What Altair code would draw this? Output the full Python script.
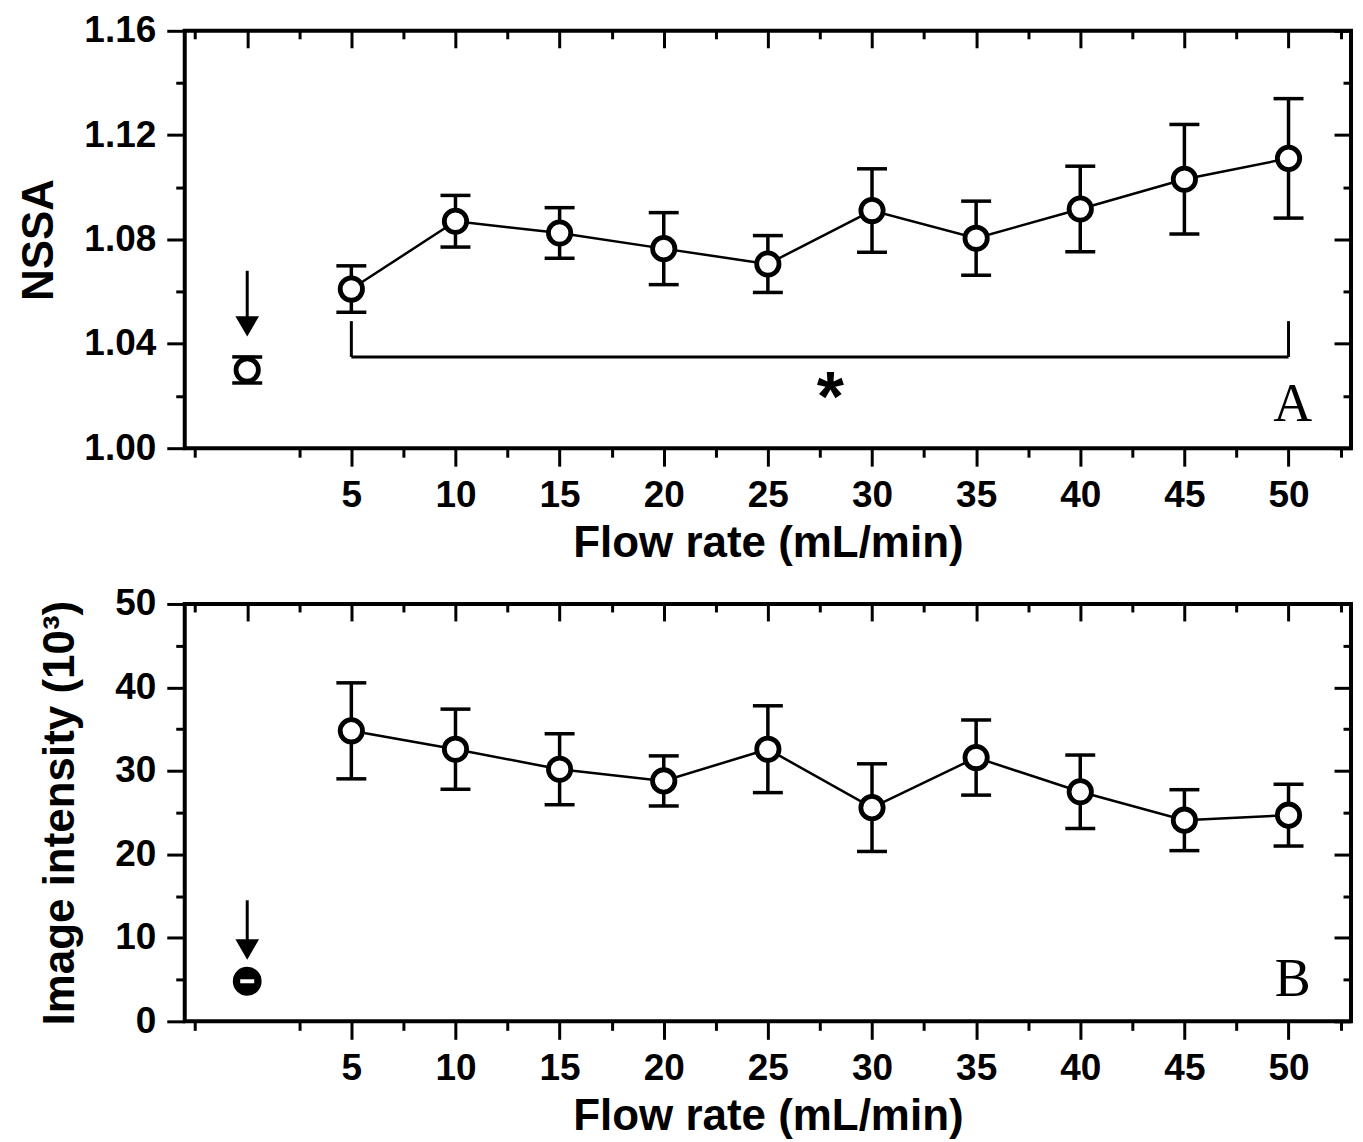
import altair as alt
import pandas as pd

# ---------------- data ----------------
flow = [5, 10, 15, 20, 25, 30, 35, 40, 45, 50]

nssa = [1.061, 1.087, 1.0825, 1.0765, 1.0706, 1.0911, 1.0805, 1.0917, 1.1031, 1.1111]
nssa_err = [0.0089, 0.0099, 0.0097, 0.0138, 0.0109, 0.0160, 0.0142, 0.0164, 0.0210, 0.0229]

ctrl_flow = [0]
nssa_ctrl = [1.030]
nssa_ctrl_err = [0.005]

intensity = [34.8, 32.6, 30.2, 28.8, 32.6, 25.6, 31.6, 27.5, 24.1, 24.7]
intensity_err = [5.75, 4.8, 4.25, 3.0, 5.2, 5.25, 4.5, 4.4, 3.65, 3.7]
int_ctrl = [4.8]

# arrows pointing at the control points (shaft top, arrow-head centre)
nssa_arrow_top = [1.068]
nssa_arrow_head = [1.0467]
int_arrow_top = [14.5]
int_arrow_head = [8.6]

# significance bracket
bracket_x = [5, 50]
bracket_y = [1.035]
bracket_top = [1.0487]
star_x = [28]
star_y = [1.0242]

# panel letters
letter_x = [50.2]
letter_a_y = [1.0167]
letter_b_y = [5.0]

# axes
X_DOMAIN = [-3, 53]
x_major_bottom = [5, 10, 15, 20, 25, 30, 35, 40, 45, 50]
x_major_top = [0, 5, 10, 15, 20, 25, 30, 35, 40, 45, 50]
x_minor = [-2.5, 2.5, 7.5, 12.5, 17.5, 22.5, 27.5, 32.5, 37.5, 42.5, 47.5, 52.5]

nssa_domain = [1.00, 1.16]
nssa_major = [1.00, 1.04, 1.08, 1.12, 1.16]
nssa_minor = [1.02, 1.06, 1.10, 1.14]

int_domain = [0, 50]
int_major = [0, 10, 20, 30, 40, 50]
int_minor = [5, 15, 25, 35, 45]

W = 1168
H = 418
XTITLE = "Flow rate (mL/min)"

xs = alt.Scale(domain=X_DOMAIN, nice=False, zero=False)


def X(field, axis, title=None):
    return alt.X(f"{field}:Q", scale=xs, axis=axis, title=title)


def panel(vals, errs, ctrl_vals, ctrl_errs, ydom, ymaj, ymin, yfmt, ytitle,
          ytitle_pad, arrow_top, arrow_head, ctrl_filled, extra):
    ys = alt.Scale(domain=ydom, nice=False, zero=False)

    def Y(field, axis, title=None):
        return alt.Y(f"{field}:Q", scale=ys, axis=axis, title=title)

    df = pd.DataFrame({"flow": flow, "v": vals,
                       "lo": [v - e for v, e in zip(vals, errs)],
                       "hi": [v + e for v, e in zip(vals, errs)]})
    cdf = pd.DataFrame({"flow": ctrl_flow, "v": ctrl_vals,
                        "lo": [v - e for v, e in zip(ctrl_vals, ctrl_errs)],
                        "hi": [v + e for v, e in zip(ctrl_vals, ctrl_errs)]})
    err_df = df if ctrl_filled else pd.concat([cdf, df], ignore_index=True)

    ax_x_main = alt.Axis(orient="bottom", values=x_major_bottom, tickSize=18,
                         format="d", labelFlush=False, labelOverlap=False,
                         titlePadding=8)
    ax_x_minor = alt.Axis(orient="bottom", values=x_minor, tickSize=9, labels=False)
    ax_x_top = alt.Axis(orient="bottom", offset=-H, values=x_major_top,
                        tickSize=17, labels=False)
    ax_x_top_minor = alt.Axis(orient="bottom", offset=-H, values=x_minor,
                              tickSize=8, labels=False)

    ax_y_main = alt.Axis(orient="left", values=ymaj, tickSize=18, format=yfmt,
                         labelOverlap=False, labelFlush=False, titlePadding=ytitle_pad)
    ax_y_minor = alt.Axis(orient="left", values=ymin, tickSize=9, labels=False)
    ax_y_right = alt.Axis(orient="left", offset=-W, values=ymaj, tickSize=17,
                          labels=False)
    ax_y_right_minor = alt.Axis(orient="left", offset=-W, values=ymin, tickSize=8,
                                labels=False)

    line = alt.Chart(df).mark_line(color="black", strokeWidth=2.5).encode(
        x=X("flow", ax_x_main, XTITLE), y=Y("v", ax_y_main, ytitle))
    bars = alt.Chart(err_df).mark_rule(color="black", strokeWidth=3.5).encode(
        x=X("flow", ax_x_minor), y=Y("lo", ax_y_minor), y2="hi")
    cap_hi = alt.Chart(err_df).mark_tick(orient="horizontal", size=30, thickness=3.5,
                                         color="black", opacity=1).encode(
        x=X("flow", ax_x_top), y=Y("hi", ax_y_right))
    cap_lo = alt.Chart(err_df).mark_tick(orient="horizontal", size=30, thickness=3.5,
                                         color="black", opacity=1).encode(
        x=X("flow", ax_x_top_minor), y=Y("lo", ax_y_right_minor))

    circ_df = df if ctrl_filled else pd.concat([cdf, df], ignore_index=True)
    circles = alt.Chart(circ_df).mark_circle(fill="white", stroke="black",
                                             strokeWidth=4.8, size=500, opacity=1).encode(
        x=X("flow", None), y=Y("v", None))

    layers = [line, bars, cap_hi, cap_lo, circles]

    if ctrl_filled:
        layers.append(alt.Chart(cdf).mark_circle(fill="black", stroke="black",
                                                 strokeWidth=2, size=720, opacity=1).encode(
            x=X("flow", None), y=Y("v", None)))
        layers.append(alt.Chart(cdf).mark_tick(orient="horizontal", size=14, thickness=4,
                                               color="white", opacity=1).encode(
            x=X("flow", None), y=Y("v", None)))

    adf = pd.DataFrame({"flow": ctrl_flow, "top": arrow_top, "head": arrow_head})
    layers.append(alt.Chart(adf).mark_rule(color="black", strokeWidth=3).encode(
        x=X("flow", None), y=Y("top", None), y2="head"))
    layers.append(alt.Chart(adf).mark_point(shape="triangle-down", filled=True,
                                            color="black", size=560, opacity=1).encode(
        x=X("flow", None), y=Y("head", None)))

    for make in extra:
        layers.append(make(Y))

    return alt.layer(*layers).resolve_axis(x="independent", y="independent").properties(
        width=W, height=H)


def top_extra():
    def bracket_h(Y):
        d = pd.DataFrame({"x1": [bracket_x[0]], "x2": [bracket_x[1]], "y": bracket_y})
        return alt.Chart(d).mark_rule(color="black", strokeWidth=3).encode(
            x=X("x1", None), x2="x2", y=Y("y", None))

    def bracket_v(Y):
        d = pd.DataFrame({"x": bracket_x, "y": bracket_y * 2, "yt": bracket_top * 2})
        return alt.Chart(d).mark_rule(color="black", strokeWidth=3).encode(
            x=X("x", None), y=Y("y", None), y2="yt")

    def star(Y):
        d = pd.DataFrame({"x": star_x, "y": star_y, "t": ["*"]})
        return alt.Chart(d).mark_text(font="Liberation Sans", fontWeight="bold",
                                      fontSize=70, color="black", baseline="middle",
                                      align="center", dy=15).encode(
            x=X("x", None), y=Y("y", None), text="t:N")

    def letter(Y):
        d = pd.DataFrame({"x": letter_x, "y": letter_a_y, "t": ["A"]})
        return alt.Chart(d).mark_text(font="Liberation Serif", fontSize=54,
                                      color="black", baseline="middle",
                                      align="center").encode(
            x=X("x", None), y=Y("y", None), text="t:N")

    return [bracket_h, bracket_v, star, letter]


def bottom_extra():
    def letter(Y):
        d = pd.DataFrame({"x": letter_x, "y": letter_b_y, "t": ["B"]})
        return alt.Chart(d).mark_text(font="Liberation Serif", fontSize=54,
                                      color="black", baseline="middle",
                                      align="center").encode(
            x=X("x", None), y=Y("y", None), text="t:N")

    return [letter]


top = panel(nssa, nssa_err, nssa_ctrl, nssa_ctrl_err, nssa_domain, nssa_major,
            nssa_minor, ".2f", "NSSA", 22, nssa_arrow_top, nssa_arrow_head, False,
            top_extra())
bottom = panel(intensity, intensity_err, int_ctrl, [0.0], int_domain, int_major,
               int_minor, "d", "Image intensity (10³)", 32, int_arrow_top,
               int_arrow_head, True, bottom_extra())

chart = alt.vconcat(top, bottom, spacing=16).properties(
    padding={"left": 7, "top": 1, "right": 0, "bottom": 0}
).configure_view(
    stroke="black", strokeWidth=4
).configure_axis(
    labelFont="Liberation Sans", labelFontWeight="bold", labelFontSize=37,
    labelColor="black", titleFont="Liberation Sans", titleFontWeight="bold",
    titleFontSize=44, titleColor="black", tickColor="black", tickWidth=3,
    grid=False, domain=False, labelPadding=11
)

chart.save("out.html", embed_options={"renderer": "svg", "actions": False})
